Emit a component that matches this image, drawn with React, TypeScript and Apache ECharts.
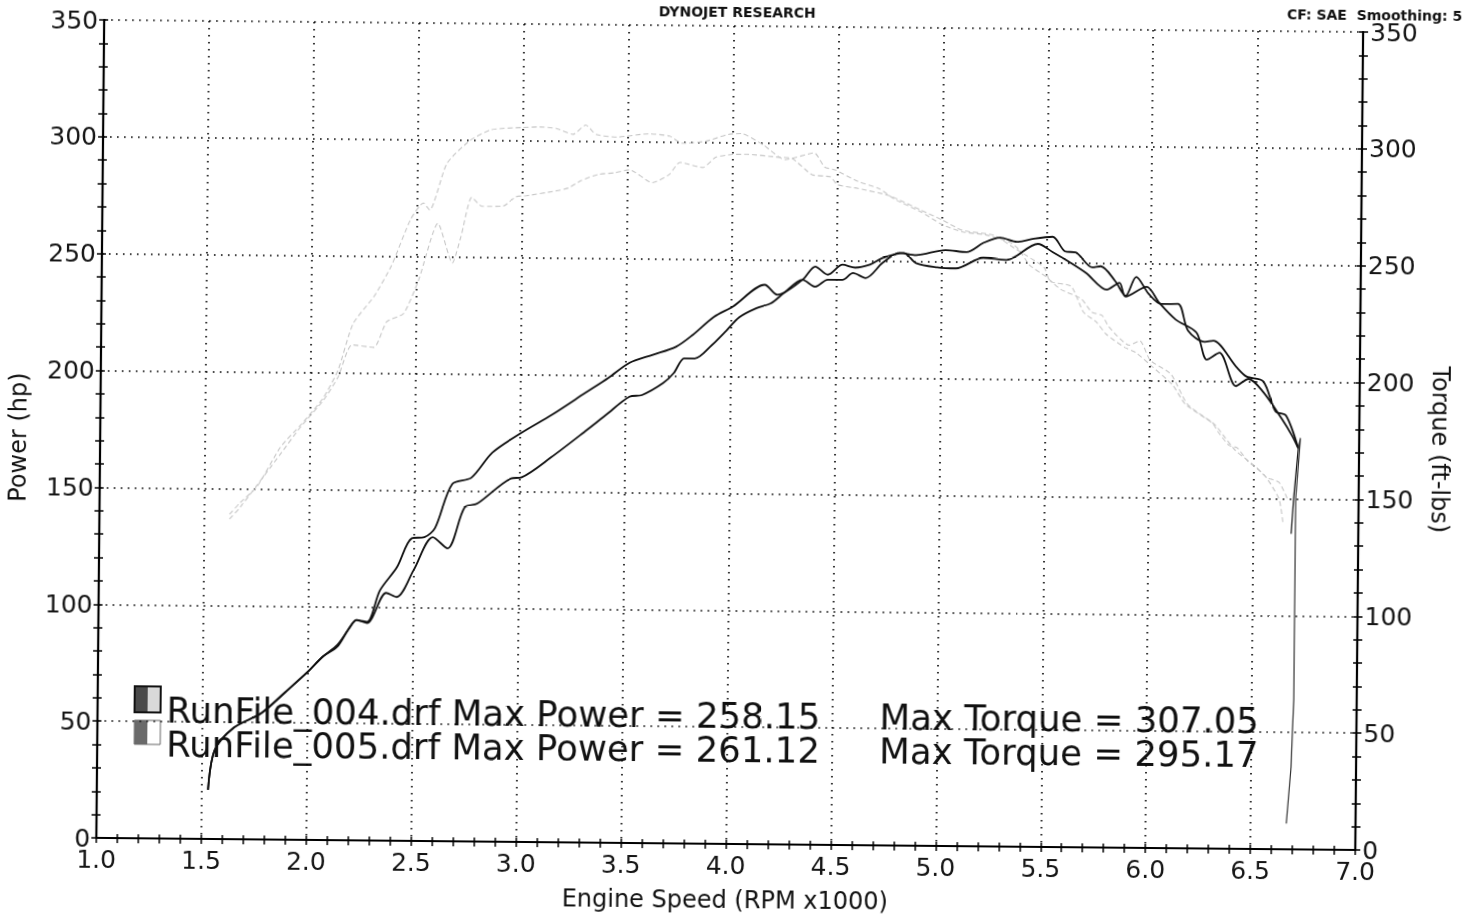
import React, { useEffect, useRef } from 'react';
import * as echarts from 'echarts';

const FONT = '"DejaVu Sans", Verdana, sans-serif';

// Axis ranges / ticks
const X_MIN = 1.0;
const X_MAX = 7.0;
const X_STEP = 0.5;
const Y_MIN = 0;
const Y_MAX = 350;
const Y_STEP = 50;

// Text content
const TITLE = 'DYNOJET RESEARCH';
const CF_TEXT = 'CF: SAE  Smoothing: 5';
const X_NAME = 'Engine Speed (RPM x1000)';
const Y_LEFT_NAME = 'Power (hp)';
const Y_RIGHT_NAME = 'Torque (ft-lbs)';
const LEGEND_RUNS = ['RunFile_004.drf Max Power = 258.15', 'RunFile_005.drf Max Power = 261.12'];
const LEGEND_TORQUE = ['Max Torque = 307.05', 'Max Torque = 295.17'];

// Power (hp) vs RPM x1000
const power004: number[][] = [
  [1.53, 21], [1.56, 38], [1.65, 47.7], [1.78, 54], [1.89, 62.8], [2.0, 71.9], [2.07, 78.4],
  [2.14, 83.6], [2.2, 91.3], [2.23, 94.3], [2.28, 93.5], [2.34, 107], [2.42, 117], [2.49, 129.5],
  [2.55, 130], [2.6, 134], [2.68, 152.9], [2.77, 155.6], [2.87, 166.5], [3.01, 175.2], [3.15, 182.8],
  [3.31, 192.4], [3.42, 199], [3.52, 205.5], [3.63, 209], [3.74, 212.5], [3.82, 217.7], [3.92, 225.5],
  [4.01, 230], [4.16, 239.4], [4.22, 235.2], [4.34, 241.7], [4.4, 247.4], [4.46, 244], [4.53, 248.3],
  [4.59, 247.1], [4.66, 248.4], [4.72, 251.3], [4.82, 253.6], [4.88, 249.3], [4.98, 247.6], [5.07, 247.2],
  [5.2, 251.8], [5.31, 251], [5.46, 258], [5.53, 254.6], [5.61, 250.4], [5.69, 245.8], [5.79, 238.7],
  [5.85, 241.7], [5.88, 235.8], [5.98, 240.1], [6.04, 233.4], [6.12, 226.2], [6.22, 220.7], [6.27, 209.2],
  [6.33, 212.2], [6.41, 198], [6.47, 201.1], [6.54, 195.6], [6.63, 184.2], [6.68, 177], [6.71, 171.6],
];
const power004Tail: number[][] = [[6.71, 171.6], [6.69, 150], [6.68, 135]];

const power005: number[][] = [
  [1.53, 21], [1.56, 38], [1.65, 47.7], [1.78, 54], [1.89, 62.8], [2.0, 71.9], [2.07, 78.4],
  [2.14, 82.8], [2.19, 90], [2.23, 94.3], [2.28, 93], [2.37, 106], [2.42, 104.3], [2.5, 115.9],
  [2.59, 130], [2.66, 125.3], [2.74, 142.9], [2.8, 144.6], [2.96, 155.5], [3.01, 156], [3.15, 164.7],
  [3.32, 176.6], [3.41, 183.1], [3.52, 190.9], [3.58, 191.7], [3.68, 196.9], [3.73, 201.2], [3.78, 207.6],
  [3.83, 207.6], [3.91, 213.3], [3.98, 219.7], [4.04, 225.4], [4.12, 229.3], [4.19, 231.5], [4.25, 235.8],
  [4.34, 241.7], [4.4, 238.8], [4.46, 241.8], [4.53, 241.8], [4.58, 244.8], [4.64, 242.7], [4.72, 249.2],
  [4.8, 253.6], [4.88, 252.7], [5.02, 255], [5.12, 254.2], [5.2, 258.2], [5.28, 260.5], [5.36, 258.8],
  [5.44, 260.2], [5.53, 261.1], [5.59, 254.9], [5.64, 254.5], [5.72, 248.2], [5.76, 248.7], [5.83, 242.4],
  [5.88, 236.1], [5.93, 244.3], [5.99, 237.1], [6.05, 232.8], [6.13, 232.9], [6.18, 221.4], [6.26, 216.8],
  [6.3, 217.3], [6.41, 206.3], [6.46, 202.1], [6.54, 200.1], [6.6, 187.3], [6.65, 185.6], [6.71, 171.6],
];
const power005Tail: number[][] = [
  [6.71, 171.6], [6.72, 176], [6.7, 150], [6.7, 120], [6.7, 77], [6.7, 64], [6.695, 50], [6.69, 35], [6.67, 11],
];

// Torque (ft-lbs) vs RPM x1000
const torque004: number[][] = [
  [1.62, 139], [1.67, 144], [1.75, 151], [1.86, 168], [1.96, 178], [2.06, 189], [2.13, 201], [2.2, 221],
  [2.3, 233], [2.38, 246], [2.47, 266], [2.53, 273], [2.56, 270], [2.64, 290], [2.75, 300], [2.85, 304.6],
  [3.0, 305.7], [3.08, 306], [3.16, 305.4], [3.24, 303], [3.3, 307], [3.35, 303], [3.45, 302], [3.6, 303.5],
  [3.7, 302.6], [3.76, 299.6], [3.87, 300.5], [3.98, 303.6], [4.04, 304], [4.15, 299], [4.25, 293],
  [4.39, 296], [4.44, 290], [4.49, 288.8], [4.6, 284], [4.7, 281], [4.78, 276.3], [4.9, 271.3], [5.0, 266],
  [5.1, 262.8], [5.21, 261.7], [5.33, 258.4], [5.37, 255.5], [5.42, 249], [5.5, 244], [5.57, 238.7],
  [5.67, 234.6], [5.72, 229], [5.77, 227.6], [5.8, 223], [5.9, 215], [5.95, 217], [6.0, 208.7], [6.1, 202.8],
  [6.18, 190], [6.31, 181.5], [6.36, 176], [6.41, 170.5], [6.51, 163.4], [6.56, 159], [6.62, 157], [6.66, 150],
];
const torque005: number[][] = [
  [1.62, 137], [1.67, 142], [1.86, 165], [1.955, 176.7], [2.063, 188.3], [2.13, 198], [2.196, 212], [2.3, 211],
  [2.36, 222], [2.44, 225.6], [2.51, 239.9], [2.6, 264.4], [2.67, 247.4], [2.71, 258.7], [2.76, 275.6],
  [2.81, 271.8], [2.91, 272], [2.97, 276], [3.02, 276.5], [3.16, 278.7], [3.22, 280], [3.28, 283.2],
  [3.36, 285.9], [3.44, 286.7], [3.51, 288], [3.62, 282.6], [3.7, 286.2], [3.75, 291.4], [3.86, 289.3],
  [3.92, 293.7], [4.0, 295], [4.07, 295.1], [4.22, 294], [4.28, 293.7], [4.38, 286.7], [4.47, 285.8],
  [4.5, 282.6], [4.6, 281], [4.75, 278], [4.9, 272], [5.0, 268], [5.1, 263.5], [5.25, 261.5], [5.35, 256],
  [5.49, 248], [5.52, 242], [5.62, 240], [5.68, 229], [5.74, 225], [5.79, 219.6], [5.88, 214], [5.93, 212],
  [6.01, 206], [6.11, 198], [6.17, 190], [6.3, 182], [6.33, 178], [6.38, 172.6], [6.42, 171.5], [6.47, 165.9],
  [6.55, 160], [6.62, 150], [6.64, 140],
];

const TICK_STYLE = { color: '#000', width: 1.5 };
const GRID_LINE = { show: true, lineStyle: { color: '#000', width: 1.6, type: [1.6, 5.4] } };

function buildOption(): any {
  const labelStyle = { fontSize: 25, fontFamily: FONT, color: '#151515' };
  const powerLine = { color: '#111', width: 1.8 };
  const torqueLine = { color: '#c6c6c6', width: 1.1, type: [5, 3] };

  const xBase = { type: 'value', min: X_MIN, max: X_MAX, interval: X_STEP };
  const yBase = { type: 'value', min: Y_MIN, max: Y_MAX, interval: Y_STEP };

  const line = (name: string, data: number[][], yIdx: number, style: any, smooth: number | boolean, z: number) => ({
    name,
    type: 'line',
    data,
    xAxisIndex: 0,
    yAxisIndex: yIdx,
    showSymbol: false,
    symbol: 'none',
    smooth,
    lineStyle: style,
    z,
    silent: true,
  });

  const swatch = (x: number, y: number, h: number, leftFill: string, rightFill: string, stroke: string, lw: number) => [
    { type: 'rect', shape: { x, y, width: 13, height: h }, style: { fill: leftFill }, silent: true },
    { type: 'rect', shape: { x: x + 13, y, width: 13, height: h }, style: { fill: rightFill }, silent: true },
    { type: 'rect', shape: { x, y, width: 26, height: h }, style: { fill: 'none', stroke, lineWidth: lw }, silent: true },
  ];

  const text = (t: string, x: number, y: number, font: string, align: string, rotation = 0) => ({
    type: 'text',
    x,
    y,
    rotation,
    silent: true,
    style: {
      text: t,
      font,
      fill: '#111',
      textAlign: align,
      align,
      textVerticalAlign: 'middle',
      verticalAlign: 'middle',
    },
  });

  return {
    animation: false,
    backgroundColor: '#fff',
    grid: { left: 100, right: 112, top: 26, bottom: 73, containLabel: false },
    xAxis: [
      {
        ...xBase,
        position: 'bottom',
        axisLine: { show: true, lineStyle: { color: '#000', width: 2.2 } },
        axisTick: { show: true, length: 5, lineStyle: TICK_STYLE },
        minorTick: { show: true, splitNumber: 5, length: 5, lineStyle: TICK_STYLE },
        axisLabel: { ...labelStyle, margin: 9, formatter: (v: number) => v.toFixed(1) },
        splitLine: GRID_LINE,
      },
      {
        ...xBase,
        position: 'bottom',
        axisLine: { show: false },
        axisTick: { show: true, inside: true, length: 4, lineStyle: TICK_STYLE },
        minorTick: { show: true, splitNumber: 5, length: 4, lineStyle: TICK_STYLE },
        axisLabel: { show: false },
        splitLine: { show: false },
      },
      {
        ...xBase,
        position: 'top',
        axisLine: { show: true, lineStyle: { color: '#000', width: 2.2 } },
        axisTick: { show: false },
        axisLabel: { show: false },
        splitLine: { show: false },
      },
    ],
    yAxis: [
      {
        ...yBase,
        position: 'left',
        axisLine: { show: true, lineStyle: { color: '#000', width: 2.2 } },
        axisTick: { show: true, length: 5, lineStyle: TICK_STYLE },
        minorTick: { show: true, splitNumber: 5, length: 5, lineStyle: TICK_STYLE },
        axisLabel: { ...labelStyle, margin: 6 },
        splitLine: GRID_LINE,
      },
      {
        ...yBase,
        position: 'left',
        axisLine: { show: false },
        axisTick: { show: true, inside: true, length: 4, lineStyle: TICK_STYLE },
        minorTick: { show: true, splitNumber: 5, length: 4, lineStyle: TICK_STYLE },
        axisLabel: { show: false },
        splitLine: { show: false },
      },
      {
        ...yBase,
        position: 'right',
        axisLine: { show: true, lineStyle: { color: '#000', width: 2.2 } },
        axisTick: { show: true, length: 5, lineStyle: TICK_STYLE },
        minorTick: { show: true, splitNumber: 5, length: 5, lineStyle: TICK_STYLE },
        axisLabel: { ...labelStyle, margin: 7 },
        splitLine: { show: false },
      },
      {
        ...yBase,
        position: 'right',
        axisLine: { show: false },
        axisTick: { show: true, inside: true, length: 4, lineStyle: TICK_STYLE },
        minorTick: { show: true, splitNumber: 5, length: 4, lineStyle: TICK_STYLE },
        axisLabel: { show: false },
        splitLine: { show: false },
      },
    ],
    series: [
      line('Torque 004', torque004, 2, torqueLine, 0.2, 2),
      line('Torque 005', torque005, 2, torqueLine, 0.2, 2),
      line('Power 004', power004, 0, powerLine, 0.3, 3),
      line('Power 004 tail', power004Tail, 0, { ...powerLine, width: 1.2 }, false, 3),
      line('Power 005', power005, 0, powerLine, 0.3, 3),
      line('Power 005 tail', power005Tail, 0, { ...powerLine, width: 1.2, color: '#333' }, false, 3),
    ],
    graphic: [
      text(TITLE, 733, 12, `bold 14px ${FONT}`, 'center'),
      text(CF_TEXT, 1458, 9, `bold 14px ${FONT}`, 'right'),
      text(X_NAME, 729, 900, `24px ${FONT}`, 'center'),
      text(Y_LEFT_NAME, 18, 444, `24px ${FONT}`, 'center', Math.PI / 2),
      text(Y_RIGHT_NAME, 1440, 443, `24px ${FONT}`, 'center', -Math.PI / 2),
      ...swatch(137, 692, 26, '#4a4a4a', '#d9d9d9', '#111', 2),
      ...swatch(137, 726, 24, '#6a6a6a', '#ffffff', '#666', 1),
      text(LEGEND_RUNS[0], 169, 715, `35.5px ${FONT}`, 'left'),
      text(LEGEND_RUNS[1], 169, 749, `35.5px ${FONT}`, 'left'),
      text(LEGEND_TORQUE[0], 882, 715, `35.5px ${FONT}`, 'left'),
      text(LEGEND_TORQUE[1], 882, 749, `35.5px ${FONT}`, 'left'),
    ],
  };
}

export default function App() {
  const ref = useRef<HTMLDivElement>(null);
  useEffect(() => {
    document.body.style.margin = '0';
    const chart = echarts.init(ref.current as HTMLDivElement, null, { renderer: 'svg' });
    chart.setOption(buildOption());
    return () => chart.dispose();
  }, []);
  return (
    <div
      style={{
        position: 'fixed',
        left: 0,
        top: 0,
        width: 1471,
        height: 917,
        background: '#fff',
        transform: 'rotate(0.55deg)',
        transformOrigin: '50% 50%',
      }}
    >
      <div ref={ref} style={{ width: 1471, height: 917 }} />
    </div>
  );
}
